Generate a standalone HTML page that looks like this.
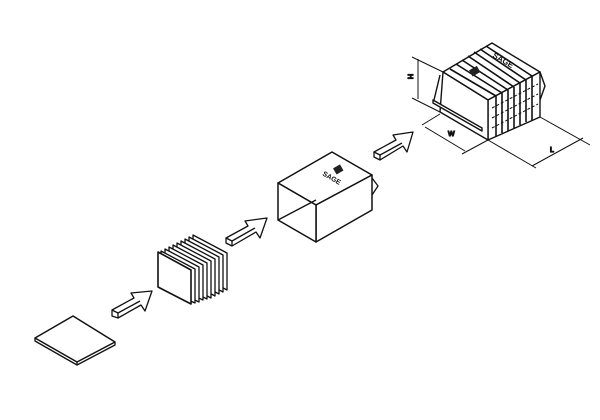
<!DOCTYPE html>
<html><head><meta charset="utf-8"><style>html,body{margin:0;padding:0;background:#fff}svg{display:block}</style></head>
<body>
<svg width="600" height="420" viewBox="0 0 600 420" xmlns="http://www.w3.org/2000/svg" fill="none" stroke="#111" stroke-width="1.3" stroke-linejoin="round">
<!-- flat sheet -->
<polygon points="35,338 73,316 115,342 77,362" fill="#fff" stroke-width="1.5"/>
<polyline points="35,338 35,341 77,365 115,345 115,342"/>
<line x1="77" y1="362" x2="77" y2="365"/>
<!-- arrow 1 -->
<polygon points="112,310 134,298 131,293 152,291 145,311 141,305 118,318 112,316" fill="#fff"/>
<polyline points="112,310 118,313 118,318"/><line x1="118" y1="313" x2="140" y2="301"/>
<!-- arrow 2 -->
<polygon points="226,238 248,226 245,221 267,218 260,238 256,232 232,246 226,243" fill="#fff"/>
<polyline points="226,238 232,241 232,246"/><line x1="232" y1="241" x2="255" y2="228"/>
<!-- arrow 3 -->
<polygon points="374,152 396,140 393,135 413,132 407,152 403,146 380,160 374,157" fill="#fff"/>
<polyline points="374,152 380,155 380,160"/><line x1="380" y1="155" x2="402" y2="143"/>
<!-- fin stack -->
<g fill="#fff">
<polygon points="193,235 227,253 227,290 193,272"/>
<polygon points="189,237 223,255 223,292 189,274"/>
<polygon points="185,239 219,257 219,294 185,276"/>
<polygon points="181,241 215,259 215,296 181,278"/>
<polygon points="177,243 211,261 211,298 177,280"/>
<polygon points="173,245 207,263 207,299 173,282"/>
<polygon points="169,247 203,265 203,300 169,284"/>
<polygon points="165,249 199,267 199,302 165,286"/>
<polygon points="161,251 195,269 195,303 161,288"/>
<polygon points="158,252 191,270 191,304 158,287" stroke-width="1.6"/>
</g>
<!-- box -->
<polygon points="278,183 332,152 372,175 316,205" fill="#fff" stroke-width="1.5"/>
<polygon points="316,205 372,175 372,210 316,242" fill="#fff" stroke-width="1.5"/>
<polygon points="278,183 316,205 316,242 278,220" fill="#fff" stroke-width="1.5"/>
<line x1="278" y1="220" x2="316" y2="200"/>
<polyline points="372,178 378,186 372,195"/>
<g transform="translate(322,175) rotate(30)"><text x="0" y="0" font-family="Liberation Sans,sans-serif" font-size="7" font-weight="bold" fill="#111" stroke="none">SAGE</text></g>
<rect x="334" y="166" width="8" height="7" fill="#222" stroke="none" transform="rotate(-30 338 169)"/>
<!-- final product -->
<g stroke-width="1.4">
<polygon points="443,72 492,43 540,72 488,100" fill="#fff"/>
<polygon points="488,100 540,72 540,117 488,140" fill="#fff"/>
<polygon points="443,72 488,100 488,140 440,112" fill="#fff"/>
<g stroke-width="1.6">
<line x1="450" y1="69" x2="496" y2="96"/><line x1="456" y1="64" x2="502" y2="93"/><line x1="462" y1="60" x2="508" y2="90"/><line x1="468" y1="56" x2="514" y2="87"/><line x1="474" y1="52" x2="520" y2="83"/><line x1="480" y1="49" x2="526" y2="80"/><line x1="486" y1="46" x2="532" y2="76"/>
<line x1="496" y1="96" x2="496" y2="136"/><line x1="502" y1="93" x2="502" y2="133"/><line x1="508" y1="90" x2="508" y2="131"/><line x1="514" y1="87" x2="514" y2="128"/><line x1="520" y1="83" x2="520" y2="125"/><line x1="526" y1="80" x2="526" y2="122"/><line x1="532" y1="76" x2="532" y2="120"/>
</g>
<g stroke-dasharray="3 2" stroke-width="1"><line x1="492" y1="108" x2="538" y2="84"/><line x1="492" y1="118" x2="538" y2="94"/><line x1="492" y1="128" x2="538" y2="104"/></g>
<polyline points="540,72 545,86 540,100"/>
<polygon points="433,100 482,128 482,131 433,103" fill="#fff"/>
<line x1="440" y1="75" x2="434" y2="100"/>
<rect x="470" y="68" width="9" height="7" fill="#222" stroke="none" transform="rotate(-30 474 71)"/>
<g transform="translate(492,57) rotate(30)"><text x="0" y="0" font-family="Liberation Sans,sans-serif" font-size="8" font-weight="bold" fill="#111" stroke="none">SAGE</text></g>
</g>
<!-- dimensions -->
<g stroke-width="1">
<line x1="412" y1="57" x2="443" y2="72"/><line x1="412" y1="98" x2="440" y2="112"/>
<line x1="418" y1="59" x2="418" y2="99"/>
<line x1="422" y1="125" x2="440" y2="114"/><line x1="462" y1="154" x2="488" y2="140"/>
<line x1="425" y1="127" x2="465" y2="151"/>
<line x1="488" y1="140" x2="536" y2="168"/><line x1="540" y1="117" x2="590" y2="145"/>
<line x1="532" y1="166" x2="583" y2="138"/>
</g>
<text x="406" y="80" font-family="Liberation Sans,sans-serif" font-size="7" fill="#111" transform="rotate(90 410 78)">H</text>
<text x="448" y="136" font-family="Liberation Sans,sans-serif" font-size="7" fill="#111">W</text>
<text x="550" y="152" font-family="Liberation Sans,sans-serif" font-size="7" fill="#111">L</text>
</svg>
</body></html>
